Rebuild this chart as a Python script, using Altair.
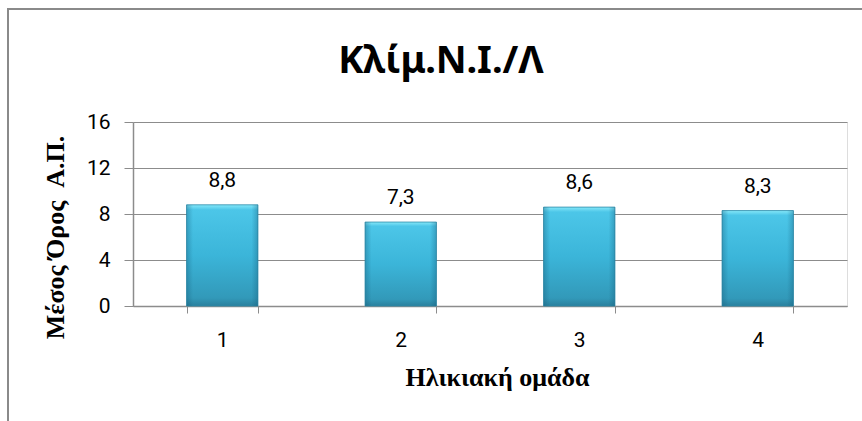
import altair as alt
import pandas as pd

# Mean score per age group
groups = ["1", "2", "3", "4"]
means = [8.8, 7.3, 8.6, 8.3]
y_ticks = [0, 4, 8, 12, 16]

df = pd.DataFrame({"group": groups, "mean": means})

GRID = "#8c8c8c"

x_enc = alt.X(
    "group:N",
    sort=groups,
    scale=alt.Scale(paddingInner=0.6, paddingOuter=0.3),
    axis=alt.Axis(
        title="Ηλικιακή ομάδα",
        titleFont="Liberation Serif",
        titleFontSize=26,
        titleFontWeight="bold",
        titleColor="#000000",
        titleX=364,
        titleY=71,
        titleBaseline="middle",
        labelFont="Roboto",
        labelFontSize=21,
        labelColor="#000000",
        labelAngle=0,
        labelPadding=16,
        tickBand="extent",
        tickSize=7,
        tickColor=GRID,
        domainColor=GRID,
        domainWidth=1.5,
        grid=False,
    ),
)

y_enc = alt.Y(
    "mean:Q",
    scale=alt.Scale(domain=[0, 16], nice=False),
    axis=alt.Axis(
        values=y_ticks,
        title="Μέσος Όρος\u00a0\u00a0Α.Π.",
        titleFont="Liberation Serif",
        titleFontSize=26,
        titleFontWeight="bold",
        titleColor="#000000",
        titleX=-78,
        titleY=115,
        titleBaseline="middle",
        labelFont="Roboto",
        labelFontSize=21,
        labelColor="#000000",
        labelPadding=14,
        tickSize=9,
        tickColor=GRID,
        domainColor=GRID,
        domainWidth=1.5,
        gridColor=GRID,
        gridWidth=1,
    ),
)

base = alt.Chart(df)

# Bars with a vertical cyan gradient
bars = base.mark_bar(
    fill=alt.Gradient(
        gradient="linear",
        x1=0, y1=0, x2=0, y2=1,
        stops=[
            alt.GradientStop(color="#86e8f9", offset=0),
            alt.GradientStop(color="#4cc6e8", offset=0.05),
            alt.GradientStop(color="#3bb5d9", offset=0.5),
            alt.GradientStop(color="#3299b9", offset=0.92),
            alt.GradientStop(color="#2a809d", offset=1),
        ],
    ),
    stroke="#2c8aa8",
    strokeWidth=0.8,
).encode(x=x_enc, y=y_enc)

# Darker bevel along the left and right sides of each bar
bevel = base.mark_bar(
    fill=alt.Gradient(
        gradient="linear",
        x1=0, y1=0, x2=1, y2=0,
        stops=[
            alt.GradientStop(color="rgba(20,90,120,0.35)", offset=0),
            alt.GradientStop(color="rgba(20,90,120,0)", offset=0.09),
            alt.GradientStop(color="rgba(20,90,120,0)", offset=0.91),
            alt.GradientStop(color="rgba(20,90,120,0.35)", offset=1),
        ],
    ),
).encode(x=alt.X("group:N", sort=groups), y=alt.Y("mean:Q"))

# Value labels with a decimal comma
labels = base.transform_calculate(
    label="replace(format(datum.mean, '.1f'), '.', ',')"
).mark_text(
    font="Roboto", fontSize=21, color="#000000", dy=-18, baseline="alphabetic"
).encode(x=alt.X("group:N", sort=groups), y=alt.Y("mean:Q"), text="label:N")

# Outer chart frame (left and top edges)
frame_left = base.mark_rule(color="#8a8a8a", strokeWidth=2).encode(
    x=alt.value(-125), y=alt.value(-113), y2=alt.value(320)
)
frame_top = base.mark_rule(color="#8a8a8a", strokeWidth=2).encode(
    x=alt.value(-126), x2=alt.value(760), y=alt.value(-113)
)

# Chart heading, centred on the whole frame
heading = alt.Chart(pd.DataFrame({"t": ["Κλίμ.Ν.Ι./Λ"]})).mark_text(
    font="Noto Sans",
    fontSize=38,
    fontWeight="bold",
    color="#000000",
    align="center",
    baseline="alphabetic",
).encode(x=alt.value(308), y=alt.value(-49), text="t:N")

chart = (
    alt.layer(frame_left, frame_top, bars, bevel, labels, heading)
    .properties(
        width=714,
        height=184,
        padding={"left": 133, "top": 122, "right": 15, "bottom": 115},
        autosize="none",
    )
    .configure_view(stroke=None)
    .configure(background="#ffffff")
)

chart.save("out.html", embed_options={"renderer": "svg", "actions": False})
